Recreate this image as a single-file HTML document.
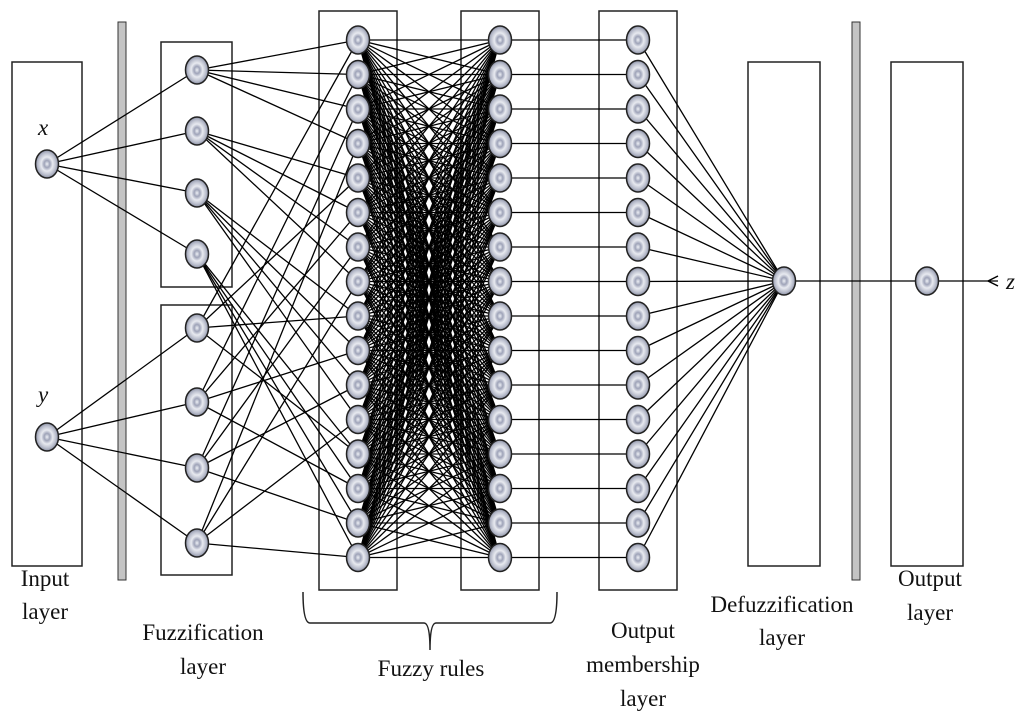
<!DOCTYPE html>
<html><head><meta charset="utf-8"><style>
html,body{margin:0;padding:0;background:#fff;}
svg{display:block}
text{font-family:"Liberation Serif",serif;font-size:23px;fill:#111}
</style></head><body>
<svg id="s" width="1024" height="724" viewBox="0 0 1024 724" xmlns="http://www.w3.org/2000/svg">
<defs>
<radialGradient id="g" cx="50%" cy="50%" r="50%">
<stop offset="0" stop-color="#eef0f6"/>
<stop offset="0.25" stop-color="#9ea3b8"/>
<stop offset="0.5" stop-color="#e8eaf0"/>
<stop offset="0.8" stop-color="#b8bccb"/>
<stop offset="1" stop-color="#8a8fa3"/>
</radialGradient>
</defs>
<g fill="none" stroke="#222" stroke-width="1.5">
<rect x="12" y="62" width="70" height="504"/>
<rect x="161" y="42" width="71" height="245"/>
<rect x="161" y="305" width="71" height="270"/>
<rect x="319" y="11" width="78" height="579"/>
<rect x="461" y="11" width="78" height="579"/>
<rect x="599" y="11" width="78" height="579"/>
<rect x="748" y="62" width="72" height="504"/>
<rect x="891" y="62" width="72" height="504"/>
<path d="M303 592 Q303 623 310 623 L424 623 Q430 623 430 650 Q430 623 436 623 L550 623 Q557 623 557 592"/>
</g>
<rect x="118" y="22" width="8" height="558" fill="#c4c4c4" stroke="#333" stroke-width="1"/>
<rect x="852" y="22" width="8" height="558" fill="#c4c4c4" stroke="#333" stroke-width="1"/>
<g id="lines" stroke="#000" stroke-width="1.3" fill="none"></g>
<g id="nodes"></g>
<path d="M988 281 L998 276 M988 281 L998 286" stroke="#000" stroke-width="1.5" fill="none"/>
<text x="38" y="135" font-style="italic">x</text>
<text x="38" y="402" font-style="italic">y</text>
<text x="1006" y="289" font-style="italic">z</text>
<text x="45" y="586" text-anchor="middle">Input</text>
<text x="45" y="619" text-anchor="middle">layer</text>
<text x="203" y="640" text-anchor="middle">Fuzzification</text>
<text x="203" y="674" text-anchor="middle">layer</text>
<text x="431" y="676" text-anchor="middle">Fuzzy rules</text>
<text x="643" y="638" text-anchor="middle">Output</text>
<text x="643" y="672" text-anchor="middle">membership</text>
<text x="643" y="706" text-anchor="middle">layer</text>
<text x="782" y="612" text-anchor="middle">Defuzzification</text>
<text x="782" y="645" text-anchor="middle">layer</text>
<text x="930" y="586" text-anchor="middle">Output</text>
<text x="930" y="620" text-anchor="middle">layer</text>
</svg>
<script>
var NS="http://www.w3.org/2000/svg",L=document.getElementById("lines"),N=document.getElementById("nodes");
function ln(a,b,c,d){var e=document.createElementNS(NS,"line");e.setAttribute("x1",a);e.setAttribute("y1",b);e.setAttribute("x2",c);e.setAttribute("y2",d);L.appendChild(e);}
function nd(x,y){var e=document.createElementNS(NS,"ellipse");e.setAttribute("cx",x);e.setAttribute("cy",y);e.setAttribute("rx",11.5);e.setAttribute("ry",14);e.setAttribute("fill","url(#g)");e.setAttribute("stroke","#222");e.setAttribute("stroke-width","1.5");N.appendChild(e);}
var inp=[[47,164],[47,437]];
var fx=[70,131,193,254],fy=[328,402,468,543];
var R=[];for(var i=0;i<16;i++)R.push(40+i*34.5);
// input->fuzz
fx.forEach(function(y){ln(47,164,197,y)});
fy.forEach(function(y){ln(47,437,197,y)});
// fuzz->rules
for(var i=0;i<4;i++)for(var j=0;j<4;j++){var k=i*4+j;ln(197,fx[i],358,R[k]);ln(197,fy[j],358,R[k]);}
// rules->col2 full
for(var a=0;a<16;a++)for(var b=0;b<16;b++)ln(358,R[a],500,R[b]);
// col2->col3
R.forEach(function(y){ln(500,y,638,y)});
// col3->defuzz
R.forEach(function(y){ln(638,y,784,281)});
ln(784,281,927,281);ln(927,281,998,281);
nd(47,164);nd(47,437);
fx.concat(fy).forEach(function(y){nd(197,y)});
R.forEach(function(y){nd(358,y);nd(500,y);nd(638,y)});
nd(784,281);nd(927,281);
</script>
</body></html>
